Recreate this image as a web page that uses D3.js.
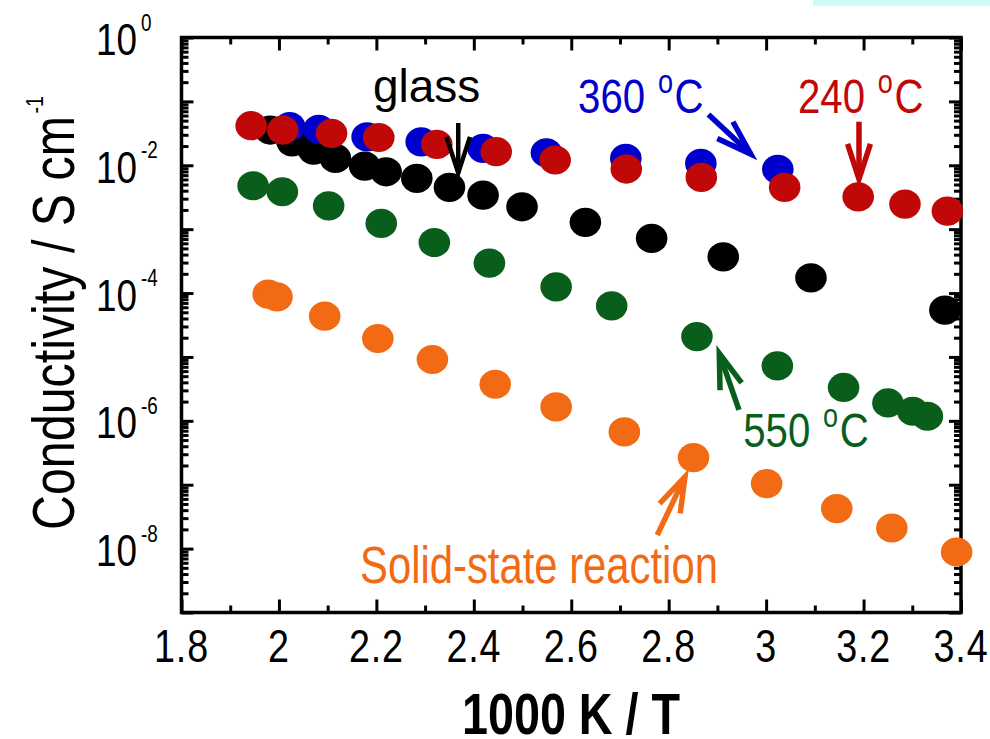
<!DOCTYPE html>
<html>
<head>
<meta charset="utf-8">
<script src="https://cdn.jsdelivr.net/npm/d3@7"></script>
<style>
  html, body { margin: 0; padding: 0; background: #fff; }
  svg { display: block; }
  text { font-family: "Liberation Sans", Arial, Helvetica, sans-serif; }
</style>
</head>
<body>
<svg id="chart" width="990" height="739"></svg>
<script>
// Axis ticks
const xTicks = [1.8, 2, 2.2, 2.4, 2.6, 2.8, 3, 3.2, 3.4];
const xTickLabels = ["1.8", "2", "2.2", "2.4", "2.6", "2.8", "3", "3.2", "3.4"];
const xMinorTicks = [1.9, 2.1, 2.3, 2.5, 2.7, 2.9, 3.1, 3.3];
const yLabelExponents = [0, -2, -4, -6, -8];
const yDecades = [-9, -8, -7, -6, -5, -4, -3, -2, -1, 0];

// Conductivity (S cm^-1) vs 1000/T
const solidX = [1.978, 1.996, 2.094, 2.203, 2.315, 2.444, 2.569, 2.709, 2.851, 3.001, 3.145, 3.258, 3.391];
const solidY = [9.62e-5, 8.71e-5, 4.35e-5, 1.945e-5, 9.12e-6, 3.74e-6, 1.652e-6, 6.70e-7, 2.66e-7, 1.042e-7, 4.23e-8, 2.10e-8, 8.85e-9];

const t550X = [1.947, 2.007, 2.102, 2.210, 2.319, 2.432, 2.569, 2.683, 2.858, 3.023, 3.159, 3.250, 3.301, 3.331];
const t550Y = [4.78e-3, 3.85e-3, 2.32e-3, 1.23e-3, 6.19e-4, 2.94e-4, 1.25e-4, 6.31e-5, 2.08e-5, 7.24e-6, 3.33e-6, 1.905e-6, 1.413e-6, 1.18e-6];

const glassX = [1.982, 2.027, 2.071, 2.116, 2.176, 2.220, 2.283, 2.350, 2.419, 2.499, 2.629, 2.765, 2.912, 3.092, 3.367];
const glassY = [3.56e-2, 2.33e-2, 1.73e-2, 1.28e-2, 9.70e-3, 7.91e-3, 6.24e-3, 4.51e-3, 3.41e-3, 2.24e-3, 1.28e-3, 7.16e-4, 3.69e-4, 1.73e-4, 5.40e-5];

const t360X = [2.022, 2.082, 2.181, 2.292, 2.419, 2.549, 2.712, 2.866, 3.024];
const t360Y = [4.04e-2, 3.65e-2, 2.79e-2, 2.33e-2, 1.84e-2, 1.57e-2, 1.28e-2, 1.07e-2, 8.63e-3];

const t240X = [1.943, 2.008, 2.108, 2.205, 2.324, 2.446, 2.567, 2.713, 2.867, 3.038, 3.189, 3.285, 3.372];
const t240Y = [4.16e-2, 3.56e-2, 3.16e-2, 2.72e-2, 2.12e-2, 1.63e-2, 1.21e-2, 8.73e-3, 6.46e-3, 4.51e-3, 3.21e-3, 2.47e-3, 1.92e-3];

const COLORS = { solid: "#f26a14", t550: "#0a5e1c", glass: "#000000", t360: "#0000cc", t240: "#c10808" };

// draw order: bottom to top
const series = [
  { xs: solidX, ys: solidY, color: COLORS.solid },
  { xs: t550X, ys: t550Y, color: COLORS.t550 },
  { xs: glassX, ys: glassY, color: COLORS.glass },
  { xs: t360X, ys: t360Y, color: COLORS.t360 },
  { xs: t240X, ys: t240Y, color: COLORS.t240 }
];

const svg = d3.select("#chart");
const plot = { left: 181.5, right: 961, top: 37.5, bottom: 612.5 };

const x = d3.scaleLinear().domain([1.8, 3.4]).range([plot.left, plot.right]);
const y = d3.scaleLog().domain([1e-9, 1]).range([plot.bottom, plot.top]);

// condensed lettering: regular face squeezed horizontally
const NARROW = 0.82;
function ntext(parent, px, py, size, opts = {}) {
  const g = parent.append("g")
    .attr("transform", `translate(${px},${py})${opts.rotate ? ` rotate(${opts.rotate})` : ""} scale(${NARROW},1)`);
  return g.append("text")
    .attr("font-size", size)
    .attr("text-anchor", opts.anchor || "start")
    .attr("font-weight", opts.weight || "normal")
    .attr("fill", opts.fill || "#000");
}

// thin highlight strip along the top edge
svg.append("rect").attr("x", 813).attr("y", 0).attr("width", 177).attr("height", 6).attr("fill", "#ccfcfc");

// ---- ticks (all pointing into the frame) ----
const yMajor = yDecades.map(e => Math.pow(10, e));
const yMinor = [];
yDecades.slice(0, -1).forEach(e => { for (let k = 2; k <= 9; k++) yMinor.push(k * Math.pow(10, e)); });

function ticks(gen, values, size, transform) {
  svg.append("g")
    .attr("transform", transform)
    .call(gen.tickValues(values).tickSize(size).tickFormat(""))
    .call(g => g.select(".domain").remove())
    .selectAll("line").attr("stroke", "#000").attr("stroke-width", 3);
}
ticks(d3.axisBottom(x), xTicks, -13, `translate(0,${plot.bottom})`);
ticks(d3.axisBottom(x), xMinorTicks, -7, `translate(0,${plot.bottom})`);
ticks(d3.axisTop(x), xTicks, -13, `translate(0,${plot.top})`);
ticks(d3.axisTop(x), xMinorTicks, -7, `translate(0,${plot.top})`);
ticks(d3.axisLeft(y), yMajor, -12, `translate(${plot.left},0)`);
ticks(d3.axisLeft(y), yMinor, -7, `translate(${plot.left},0)`);
ticks(d3.axisRight(y), yMajor, -12, `translate(${plot.right},0)`);
ticks(d3.axisRight(y), yMinor, -7, `translate(${plot.right},0)`);

// frame
svg.append("rect")
  .attr("x", plot.left).attr("y", plot.top)
  .attr("width", plot.right - plot.left).attr("height", plot.bottom - plot.top)
  .attr("fill", "none").attr("stroke", "#000").attr("stroke-width", 3.5);

// ---- tick labels ----
const xLab = svg.append("g");
xTicks.forEach((v, i) => {
  ntext(xLab, x(v), 662, 46, { anchor: "middle" }).attr("letter-spacing", 1).text(xTickLabels[i]);
});

const yLab = svg.append("g");
yLabelExponents.forEach(e => {
  const py = y(Math.pow(10, e));
  ntext(yLab, 137, py + 17.5, 45, { anchor: "end" }).text("10");
  ntext(yLab, 141, py - 7, 23).text(e === 0 ? "0" : "-" + Math.abs(e));
});

// ---- axis titles ----
ntext(svg, 571, 734, 57, { anchor: "middle", weight: "bold" }).text("1000 K / T");

const yt = ntext(svg, 73.5, 530, 59, { rotate: -90 });
yt.append("tspan").text("Conductivity / S cm");
yt.append("tspan").attr("dy", -31).attr("dx", 3).attr("font-size", 24).text("-1");

// ---- data points ----
series.forEach(s => {
  svg.append("g").selectAll("ellipse")
    .data(s.xs.map((v, i) => [v, s.ys[i]]))
    .join("ellipse")
    .attr("cx", d => x(d[0])).attr("cy", d => y(d[1]))
    .attr("rx", 15.8).attr("ry", 14.6)
    .attr("fill", s.color);
});

// ---- annotations ----
function arrow(x1, y1, x2, y2, color, width, headLen, headAngle) {
  const X1 = x(x1), Y1 = y(y1), X2 = x(x2), Y2 = y(y2);
  const back = Math.atan2(Y1 - Y2, X1 - X2);
  const a = headAngle * Math.PI / 180;
  const p1 = [X2 + headLen * Math.cos(back - a), Y2 + headLen * Math.sin(back - a)];
  const p2 = [X2 + headLen * Math.cos(back + a), Y2 + headLen * Math.sin(back + a)];
  const g = svg.append("g").attr("fill", "none").attr("stroke", color)
    .attr("stroke-width", width).attr("stroke-linejoin", "miter").attr("stroke-miterlimit", 10);
  g.append("path").attr("d", `M${X1},${Y1}L${X2},${Y2}`);
  g.append("path").attr("d", `M${p1[0]},${p1[1]}L${X2},${Y2}L${p2[0]},${p2[1]}`);
}

function tempLabel(xv, yv, num, color) {
  const t = ntext(svg, x(xv), y(yv), 49, { fill: color });
  t.append("tspan").text(num + " ");
  t.append("tspan").attr("dy", -20).attr("dx", 2).attr("font-size", 33).text("o");
  t.append("tspan").attr("dy", 20).attr("dx", 2).text("C");
}

svg.append("text").attr("x", x(2.193)).attr("y", y(Math.pow(10, -1.005)))
  .attr("font-size", 46).attr("fill", "#000").text("glass");
arrow(2.368, Math.pow(10, -1.338), 2.368, Math.pow(10, -2.121), "#000", 4.5, 38, 18);

tempLabel(2.614, Math.pow(10, -1.182), "360", COLORS.t360);
arrow(2.8816, Math.pow(10, -1.205), 2.9686, Math.pow(10, -1.825), COLORS.t360, 5.5, 37, 18);

tempLabel(3.0654, Math.pow(10, -1.182), "240", COLORS.t240);
arrow(3.1906, Math.pow(10, -1.318), 3.1906, Math.pow(10, -2.215), COLORS.t240, 5.5, 37, 18);

tempLabel(2.9531, Math.pow(10, -6.405), "550", COLORS.t550);
arrow(2.9443, Math.pow(10, -5.830), 2.9039, Math.pow(10, -4.943), COLORS.t550, 5.5, 37, 18);

ntext(svg, x(2.1664), y(Math.pow(10, -8.543)), 51, { fill: COLORS.solid }).text("Solid-state reaction");
arrow(2.7766, Math.pow(10, -7.787), 2.8335, Math.pow(10, -6.874), COLORS.solid, 5.5, 37, 18);
</script>
</body>
</html>
